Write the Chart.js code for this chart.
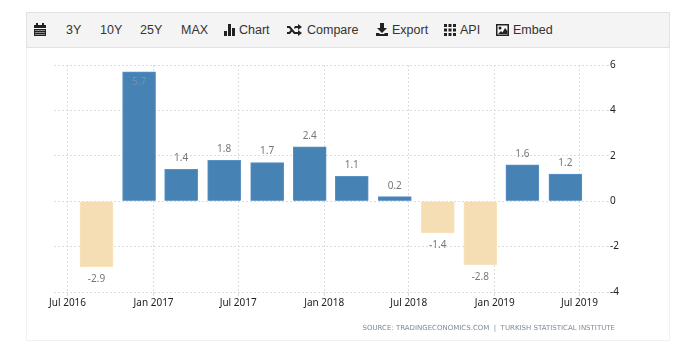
<!DOCTYPE html>
<html>
<head>
<meta charset="utf-8">
<style>
  html, body { margin: 0; padding: 0; background: #fff; }
  #page { position: relative; width: 680px; height: 352px; overflow: hidden; font-family: "Liberation Sans", Arial, sans-serif; }
  #toolbar { position: absolute; left: 26px; top: 12px; width: 642px; height: 34px; background: #f4f4f4; border: 1px solid #e2e2e2; }
  #page span.t { position: absolute; top: 23px; font-size: 12.5px; line-height: 15px; color: #333; white-space: nowrap; }
  #page svg { position: absolute; fill: #222; }
  #panel { position: absolute; left: 26px; top: 48px; width: 642px; height: 292px; border: 1px solid #f1f1f1; border-top: 0; }
  #wrap { position: absolute; left: 27px; top: 48px; width: 642px; height: 293px; }
  #source { position: absolute; right: 65px; top: 324px; font: 7px "DejaVu Sans", sans-serif; color: #7c8a99; white-space: pre; }
</style>
</head>
<body>
<div id="page">
  <div id="toolbar"></div>
  <div id="panel"></div>

  <svg style="left:34px;top:23px" width="12" height="13" viewBox="0 0 12 13"><rect x="0" y="2" width="12" height="3"/><rect x="2" y="0" width="2" height="3"/><rect x="8" y="0" width="2" height="3"/><rect x="0" y="6" width="12" height="7"/><path fill="#8a8a8a" d="M1 7h10v1H1zM1 9h10v1H1zM1 11h10v1H1z"/></svg>
  <span class="t" style="left:66px">3Y</span>
  <span class="t" style="left:100px">10Y</span>
  <span class="t" style="left:140px">25Y</span>
  <span class="t" style="left:181px">MAX</span>
  <svg style="left:224px;top:24px" width="12" height="12" viewBox="0 0 12 12"><rect x="0" y="7" width="3" height="5"/><rect x="4" y="0" width="3" height="12"/><rect x="8" y="4" width="3" height="8"/></svg>
  <span class="t" style="left:239px">Chart</span>
  <svg style="left:287px;top:24px" width="15" height="12" viewBox="0 0 15 12"><path d="M0 2h3l5 6h3V6l4 3-4 3v-2H7L2 4H0zM0 8h2l1.500-2 1.500 1.500L3 10H0zM7 4l1-2h3V0l4 3-4 3V4H8.500L8 5z"/></svg>
  <span class="t" style="left:307px">Compare</span>
  <svg style="left:376px;top:23px" width="12" height="13" viewBox="0 0 12 13"><path d="M4 0h4v5h3L6 10 1 5h3zM0 10h3l1 1h4l1-1h3v3H0z"/></svg>
  <span class="t" style="left:392px">Export</span>
  <svg style="left:444px;top:24px" width="12" height="12" viewBox="0 0 12 12"><path d="M0 0h3v3H0zM4.500 0h3v3h-3zM9 0h3v3H9zM0 4.500h3v3H0zM4.500 4.500h3v3h-3zM9 4.500h3v3H9zM0 9h3v3H0zM4.500 9h3v3h-3zM9 9h3v3H9z"/></svg>
  <span class="t" style="left:460px">API</span>
  <svg style="left:496px;top:24px" width="13" height="12" viewBox="0 0 13 12"><path fill-rule="evenodd" d="M0 0h13v12H0zM1.500 1.500v9h10v-9z"/><circle cx="4" cy="4" r="1.500"/><path d="M2 10l3-3 1.500 1.500L9 4l2.500 3v3z"/></svg>
  <span class="t" style="left:513px">Embed</span>

  <div id="wrap"><canvas id="chart" width="642" height="293"></canvas></div>
  <div id="source">SOURCE: TRADINGECONOMICS.COM  |  TURKISH STATISTICAL INSTITUTE</div>
</div>

<script src="https://cdn.jsdelivr.net/npm/chart.js@4"></script>
<script>
const quarters = ["2016-09-01", "2016-12-01", "2017-03-01", "2017-06-01", "2017-09-01", "2017-12-01",
  "2018-03-01", "2018-06-01", "2018-09-01", "2018-12-01", "2019-03-01", "2019-06-01"];
const growth = [-2.9, 5.7, 1.4, 1.8, 1.7, 2.4, 1.1, 0.2, -1.4, -2.8, 1.6, 1.2];

const tickDates = ["2016-07-01", "2017-01-01", "2017-07-01", "2018-01-01", "2018-07-01", "2019-01-01", "2019-07-01"];
const tickLabels = ["Jul 2016", "Jan 2017", "Jul 2017", "Jan 2018", "Jul 2018", "Jan 2019", "Jul 2019"];

const ms = (d) => new Date(d + "T00:00:00Z").getTime();

// value labels, pushed inside the bar when there is no room above it
const barLabels = {
  id: "barLabels",
  afterDatasetsDraw(chart) {
    const { ctx, chartArea } = chart;
    const bars = chart.getDatasetMeta(0).data;
    ctx.save();
    ctx.font = "10px 'Noto Sans', sans-serif";
    ctx.textAlign = "center";
    ctx.textBaseline = "middle";
    bars.forEach((bar, i) => {
      const v = growth[i];
      let y = v < 0 ? bar.y + 12 : bar.y - 11;
      let color = "#777";
      if (y < chartArea.top) {
        y = bar.y + 10;
        color = "#7391ae";
      }
      ctx.fillStyle = color;
      ctx.fillText(v.toFixed(1), bar.x, y);
    });
    ctx.restore();
  },
};

new Chart(document.getElementById("chart"), {
  type: "bar",
  plugins: [barLabels],
  data: {
    datasets: [
      {
        data: quarters.map((q, i) => ({ x: ms(q), y: growth[i] })),
        backgroundColor: growth.map((v) => (v < 0 ? "#f5deb3" : "#4682b4")),
        borderColor: growth.map((v) => (v < 0 ? "#f7e3be" : "#5a90c6")),
        borderWidth: 1,
        barThickness: 33,
      },
    ],
  },
  options: {
    responsive: false,
    animation: false,
    layout: { padding: { left: 27, top: 17 } },
    plugins: { legend: { display: false }, tooltip: { enabled: false } },
    scales: {
      x: {
        type: "linear",
        offset: false,
        min: ms("2016-06-02"),
        max: ms("2019-08-29"),
        afterBuildTicks: (axis) => {
          axis.ticks = tickDates.map((d) => ({ value: ms(d) }));
        },
        afterFit: (axis) => {
          axis.height = 49;
        },
        ticks: {
          autoSkip: false,
          maxRotation: 0,
          padding: 1,
          color: "#222",
          font: { family: "'Noto Sans', sans-serif", size: 10 },
          callback: (value, i) => tickLabels[i],
        },
        grid: { color: "#dcdcdc", tickLength: 4, offset: false },
        border: { display: false, dash: [2, 2] },
      },
      y: {
        position: "right",
        min: -4,
        max: 6,
        afterFit: (axis) => {
          axis.width = 62;
        },
        ticks: {
          stepSize: 2,
          crossAlign: "near",
          padding: 1,
          color: "#222",
          font: { family: "'Noto Sans', sans-serif", size: 10 },
        },
        grid: { color: "#dcdcdc", tickLength: 2 },
        border: { display: false, dash: [2, 2] },
      },
    },
  },
});
</script>
</body>
</html>
